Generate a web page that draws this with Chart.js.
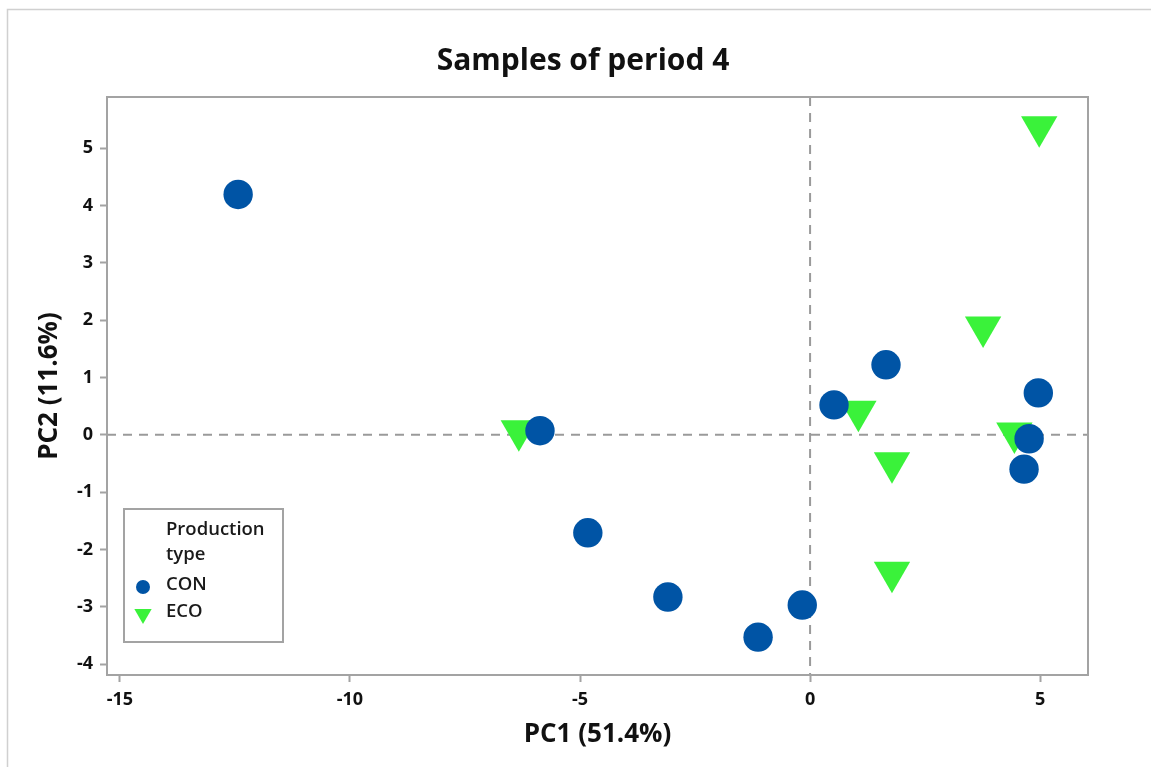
<!DOCTYPE html>
<html>
<head>
<meta charset="utf-8">
<title>Samples of period 4</title>
<script src="https://cdn.jsdelivr.net/npm/chart.js@4.4.1/dist/chart.umd.min.js"></script>
<style>
  html, body { margin: 0; padding: 0; background: #fff; }
  #wrap { position: relative; width: 1151px; height: 767px; }
</style>
</head>
<body>
<div id="wrap"><canvas id="pca" width="1151" height="767"></canvas></div>
<script>
// PCA scores, period 4
const conX = [-12.43, -5.87, -4.83, -3.09, -1.13, -0.17, 0.52, 1.65, 4.76, 4.65, 4.96];
const conY = [4.19, 0.07, -1.71, -2.83, -3.53, -2.97, 0.52, 1.22, -0.07, -0.60, 0.73];
const ecoX = [-6.33, 1.05, 1.78, 1.78, 3.76, 4.44, 4.98];
const ecoY = [0.07, 0.41, -0.49, -2.40, 1.88, 0.03, 5.37];
const xTicks = [-15, -10, -5, 0, 5];
const yTicks = [-4, -3, -2, -1, 0, 1, 2, 3, 4, 5];
const chartTitle = 'Samples of period 4';
const legendTitle = ['Production', 'type'];

const FONT = "'Open Sans', 'DejaVu Sans', sans-serif";
const GRAY = '#a3a3a3';

function toPoints(xs, ys) {
    return xs.map(function(x, i) { return { x: x, y: ys[i] }; });
}

// dashed reference lines at 0, frame around the plot, title, outer border
const framePlugin = {
    id: 'frame',
    beforeDatasetsDraw: function(chart) {
        const ctx = chart.ctx;
        const a = chart.chartArea;
        const x0 = chart.scales.x.getPixelForValue(0);
        const y0 = chart.scales.y.getPixelForValue(0);
        ctx.save();
        ctx.strokeStyle = '#9a9a9a';
        ctx.lineWidth = 2;
        ctx.setLineDash([9, 7]);
        ctx.beginPath();
        ctx.moveTo(x0, a.top); ctx.lineTo(x0, a.bottom);
        ctx.moveTo(a.left, y0); ctx.lineTo(a.right, y0);
        ctx.stroke();
        ctx.restore();
    },
    afterDraw: function(chart) {
        const ctx = chart.ctx;
        const a = chart.chartArea;
        ctx.save();
        ctx.strokeStyle = GRAY;
        ctx.lineWidth = 2;
        ctx.strokeRect(a.left, a.top, a.right - a.left, a.bottom - a.top);
        ctx.strokeStyle = '#d0d0d0';
        ctx.lineWidth = 1.5;
        ctx.strokeRect(7.5, 9.5, 1200, 800);
        // title sits slightly left of the plot centre in the original
        ctx.fillStyle = '#111';
        ctx.font = 'bold 30px ' + FONT;
        ctx.textAlign = 'center';
        ctx.textBaseline = 'middle';
        ctx.fillText(chartTitle, 583, 61);
        ctx.restore();
    }
};

// boxed legend inside the plot, bottom left
const boxLegend = {
    id: 'boxLegend',
    afterDraw: function(chart) {
        const ctx = chart.ctx;
        const bx = 124, by = 509, bw = 159, bh = 133;
        ctx.save();
        ctx.fillStyle = '#fff';
        ctx.fillRect(bx, by, bw, bh);
        ctx.strokeStyle = GRAY;
        ctx.lineWidth = 2;
        ctx.strokeRect(bx, by, bw, bh);
        ctx.fillStyle = '#1a1a1a';
        ctx.font = '600 18.5px ' + FONT;
        ctx.textBaseline = 'middle';
        ctx.textAlign = 'left';
        ctx.fillText(legendTitle[0], 166, 530);
        ctx.fillText(legendTitle[1], 166, 555);
        chart.data.datasets.forEach(function(ds, i) {
            const cy = 585 + i * 27;
            ctx.fillStyle = '#1a1a1a';
            ctx.fillText(ds.label, 166, cy);
            ctx.fillStyle = ds.backgroundColor;
            ctx.strokeStyle = ds.backgroundColor;
            Chart.helpers.drawPoint(ctx, {
                pointStyle: ds.pointStyle,
                rotation: ds.rotation || 0,
                radius: i === 0 ? 7 : 10,
                borderWidth: 0
            }, 143, cy + 2);
        });
        ctx.restore();
    }
};

new Chart(document.getElementById('pca'), {
    type: 'scatter',
    data: {
        datasets: [
            {
                label: 'CON',
                data: toPoints(conX, conY),
                pointStyle: 'circle',
                pointRadius: 14.7,
                backgroundColor: '#0054a5',
                borderColor: '#0054a5',
                borderWidth: 0
            },
            {
                label: 'ECO',
                data: toPoints(ecoX, ecoY),
                pointStyle: 'triangle',
                rotation: 180,
                pointRadius: 21,
                backgroundColor: '#3af23a',
                borderColor: '#3af23a',
                borderWidth: 0
            }
        ]
    },
    options: {
        responsive: false,
        animation: false,
        layout: { padding: { left: 0, right: 63, top: 97, bottom: 0 } },
        plugins: {
            legend: { display: false },
            tooltip: { enabled: false },
            title: { display: false }
        },
        scales: {
            x: {
                type: 'linear',
                min: -15.28,
                max: 6.04,
                afterFit: function(s) { s.height = 92; },
                afterBuildTicks: function(s) {
                    s.ticks = xTicks.map(function(v) { return { value: v }; });
                },
                border: { display: false },
                grid: {
                    drawOnChartArea: false,
                    drawTicks: true,
                    tickLength: 7,
                    tickColor: GRAY,
                    tickWidth: 2
                },
                ticks: {
                    padding: 7,
                    color: '#111',
                    font: { family: FONT, size: 18, weight: 'bold' }
                },
                title: {
                    display: true,
                    text: 'PC1 (51.4%)',
                    color: '#111',
                    font: { family: FONT, size: 26, weight: 'bold' },
                    padding: { top: 0, bottom: 17 }
                }
            },
            y: {
                type: 'linear',
                min: -4.19,
                max: 5.89,
                afterFit: function(s) { s.width = 107; },
                afterBuildTicks: function(s) {
                    s.ticks = yTicks.map(function(v) { return { value: v }; });
                },
                border: { display: false },
                grid: {
                    drawOnChartArea: false,
                    drawTicks: true,
                    tickLength: 7,
                    tickColor: GRAY,
                    tickWidth: 2
                },
                ticks: {
                    padding: 7,
                    color: '#111',
                    font: { family: FONT, size: 18, weight: 'bold' }
                },
                title: {
                    display: true,
                    text: 'PC2 (11.6%)',
                    color: '#111',
                    font: { family: FONT, size: 26, weight: 'bold' },
                    padding: { top: 34, bottom: 0 }
                }
            }
        }
    },
    plugins: [framePlugin, boxLegend]
});
</script>
</body>
</html>
